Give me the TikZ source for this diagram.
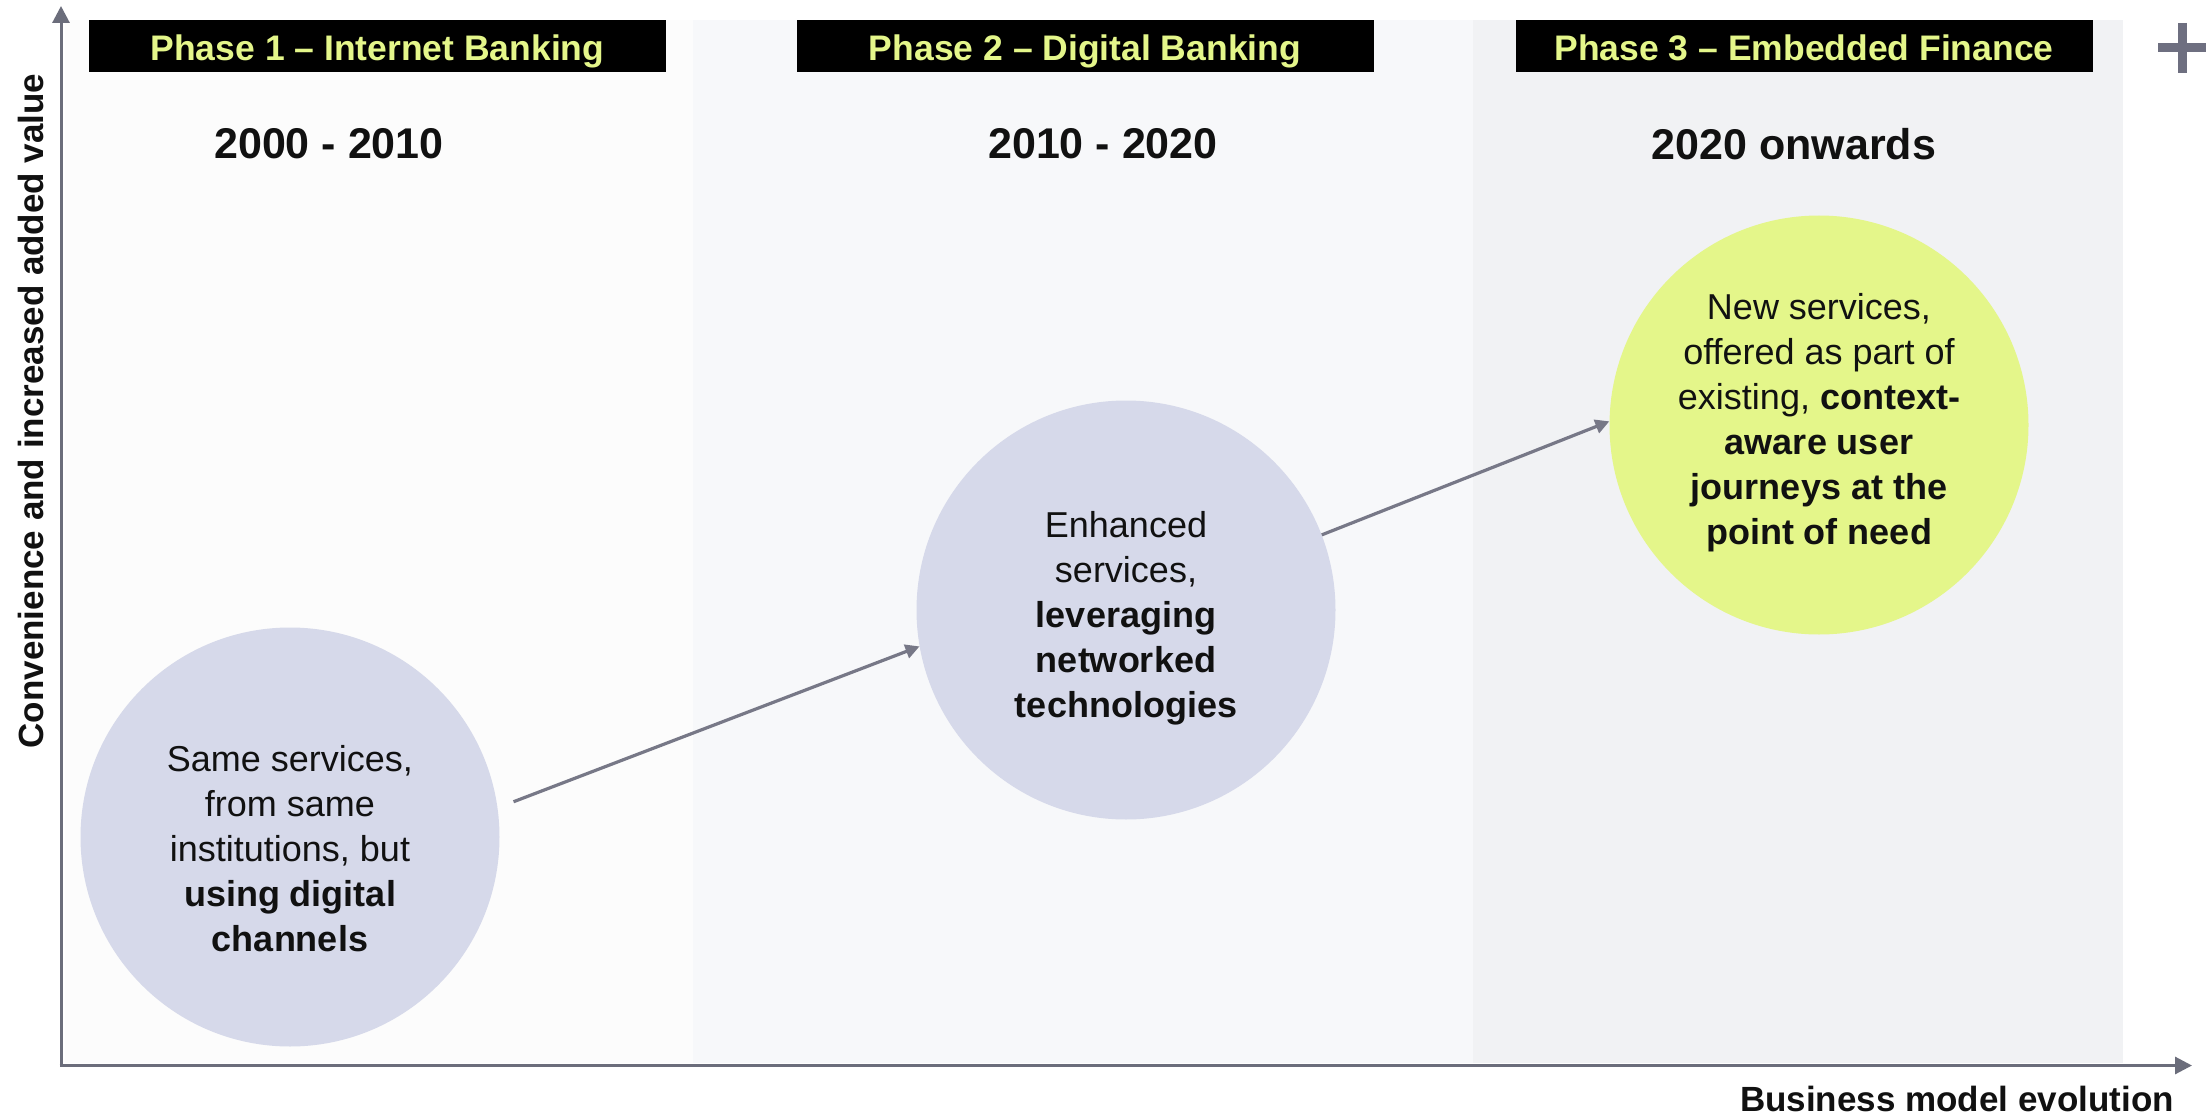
\documentclass[tikz,border=0pt]{standalone}
\usepackage{fontspec}
\setmainfont{Liberation Sans}
\usetikzlibrary{arrows.meta}
\definecolor{axisgrey}{HTML}{6B6D7B}
\definecolor{linkgrey}{HTML}{777887}
\definecolor{plusgrey}{HTML}{6E6F80}
\definecolor{lime}{HTML}{E4F68A}
\definecolor{lavender}{HTML}{D6D9EA}
\definecolor{paneA}{HTML}{FCFCFC}
\definecolor{paneB}{HTML}{F7F8FA}
\definecolor{paneC}{HTML}{F1F2F4}
\definecolor{ink}{HTML}{111111}

\begin{document}
\begin{tikzpicture}[x=1pt,y=-1pt,
  header/.style={fill=black, text=lime, minimum width=577pt, minimum height=52pt,
    inner sep=0pt, text height=30pt, text depth=0pt,
    font=\fontsize{35.5}{40}\selectfont\bfseries},
  period/.style={font=\fontsize{43}{50}\selectfont\bfseries, text=ink, inner sep=0pt},
  bubble/.style={circle, minimum size=419pt, inner sep=0pt},
  bubbletext/.style={align=center, font=\fontsize{36}{45}\selectfont, text=ink, inner sep=0pt},
  axislabel/.style={font=\fontsize{35}{40}\selectfont\bfseries, text=ink, inner sep=0pt},
  axis/.style={draw=axisgrey, line width=3pt, -{Triangle[length=17pt,width=17pt]}},
  link/.style={draw=linkgrey, line width=3.2pt, -{Triangle[length=14pt,width=14pt]}},
]
\useasboundingbox (0,0) rectangle (2212,1118);
\fill[white] (0,0) rectangle (2212,1118);

% phase panels
\fill[paneA] (65,20) rectangle (693,1063);
\fill[paneB] (693,20) rectangle (1473,1063);
\fill[paneC] (1473,20) rectangle (2123,1063);

% phase headers
\node[header] (h1) at (377.5,46) {Phase 1 – Internet Banking};
\node[header] (h2) at (1085,46) {Phase 2 – Digital Banking};
\node[header] (h3) at (1804,46) {Phase 3 – Embedded Finance};

% periods
\node[period] (p1) at (329,144) {2000 - 2010};
\node[period] (p2) at (1103,144) {2010 - 2020};
\node[period] (p3) at (1794,144) {2020 onwards};

% bubbles
\node[bubble, fill=lavender] (c1) at (290,837) {};
\node[bubble, fill=lavender] (c2) at (1126,610) {};
\node[bubble, fill=lime] (c3) at (1819,425) {};

\node[bubbletext] (t1) at (290,849) {Same services,\\from same\\institutions, but\\\textbf{using digital}\\\textbf{channels}};
\node[bubbletext] (t2) at (1126,618) {Enhanced\\services,\\\textbf{leveraging}\\\textbf{networked}\\\textbf{technologies}};
\node[bubbletext] (t3) at (1819,423) {New services,\\offered as part of\\existing, \textbf{context-}\\\textbf{aware user}\\\textbf{journeys at the}\\\textbf{point of need}};

% progression arrows
\draw[link, shorten <=17pt] (c1.8) -- (c2.190);
\draw[link] (c2.21) -- (c3.179);

% axes
\coordinate (o) at (61,1065.5);
\coordinate (ytip) at (61,6);
\coordinate (xtip) at (2192,1065.5);
\draw[axis] (o) -- (ytip);
\draw[axis] ([xshift=-1.5pt]o) -- (xtip);

\node[axislabel, rotate=90] (yl) at (31,411) {Convenience and increased added value};
\node[axislabel, anchor=east] (xl) at (2174,1099) {Business model evolution};

% plus mark
\draw[plusgrey, line width=9pt] (2158,47.5) -- (2206,47.5) (2182.5,23) -- (2182.5,73);
\end{tikzpicture}
\end{document}
